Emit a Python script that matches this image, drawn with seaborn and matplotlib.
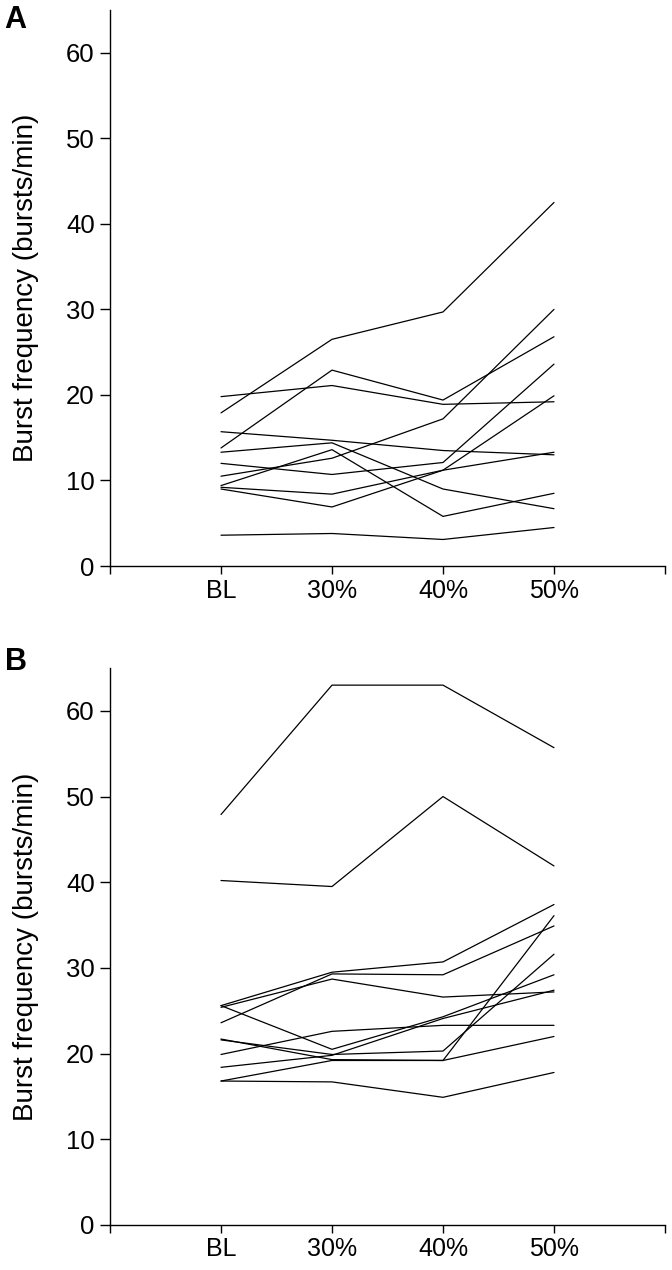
import pandas as pd
import matplotlib
matplotlib.use("Agg")
from matplotlib import pyplot as plt
import seaborn as sns

conditions = ['BL', '30%', '40%', '50%']

# burst frequency per subject (bursts/min), one row per subject: BL, 30%, 40%, 50%
panel_a = [
    [17.9, 26.5, 29.7, 42.5],
    [19.8, 21.1, 18.9, 19.2],
    [13.8, 22.9, 19.4, 26.8],
    [15.7, 14.7, 13.5, 13.0],
    [13.3, 14.4, 9.0, 6.7],
    [12.0, 10.7, 12.1, 23.6],
    [10.5, 12.6, 17.2, 30.0],
    [9.0, 6.9, 11.2, 19.9],
    [9.4, 13.6, 5.8, 8.5],
    [9.2, 8.4, 11.2, 13.3],
    [3.6, 3.8, 3.1, 4.5],
]

panel_b = [
    [47.9, 63.0, 63.0, 55.7],
    [40.2, 39.5, 50.0, 41.9],
    [25.6, 29.5, 30.7, 37.4],
    [23.6, 29.3, 29.2, 34.9],
    [25.4, 28.7, 26.6, 27.2],
    [25.6, 20.5, 24.3, 29.2],
    [21.7, 19.3, 19.2, 36.1],
    [21.6, 19.9, 20.3, 31.6],
    [19.9, 22.6, 23.3, 23.3],
    [18.4, 19.8, 24.1, 27.4],
    [16.8, 19.2, 19.2, 22.0],
    [16.8, 16.7, 14.9, 17.8],
]

y_ticks = [0, 10, 20, 30, 40, 50, 60]


def to_long(rows):
    recs = []
    for i, vals in enumerate(rows):
        for j, v in enumerate(vals):
            recs.append({'subject': i, 'condition': conditions[j], 'x': j + 1, 'freq': v})
    return pd.DataFrame(recs)


def draw_panel(ax, df):
    sns.lineplot(data=df, x='x', y='freq', units='subject', estimator=None,
                 color='black', linewidth=0.9, ax=ax, legend=False)
    ax.set_xlim(0, 5)
    ax.set_ylim(0, 65)
    ax.set_xticks(range(0, 6))
    ax.set_xticklabels([''] + conditions + [''])
    ax.set_yticks(y_ticks)
    ax.set_xlabel('')
    ax.set_ylabel('Burst frequency (bursts/min)', fontsize=20, color='black')
    ax.yaxis.set_label_coords(-0.128, 0.5)
    ax.tick_params(axis='y', length=7, width=1, pad=4, labelsize=18.5, colors='black')
    ax.tick_params(axis='x', length=6, width=1, pad=3, labelsize=18, colors='black')
    for s in ['left', 'bottom']:
        ax.spines[s].set_linewidth(1.0)
        ax.spines[s].set_color('black')
    sns.despine(ax=ax)


sns.set_style('ticks')
plt.rcParams['font.family'] = ['Liberation Sans', 'DejaVu Sans']

fig = plt.figure(figsize=(6.72, 12.7), dpi=100)
ax_a = fig.add_axes([110 / 672, 1 - 566 / 1270, 555 / 672, 556 / 1270])
ax_b = fig.add_axes([110 / 672, 1 - 1225 / 1270, 555 / 672, 557 / 1270])

draw_panel(ax_a, to_long(panel_a))
draw_panel(ax_b, to_long(panel_b))

fig.text(4 / 672, 1 - 5 / 1270, 'A', fontsize=22, fontweight='bold', va='top', ha='left', color='black')
fig.text(5 / 672, 1 - 647 / 1270, 'B', fontsize=22, fontweight='bold', va='top', ha='left', color='black')

fig.savefig('out.png', dpi=100)
